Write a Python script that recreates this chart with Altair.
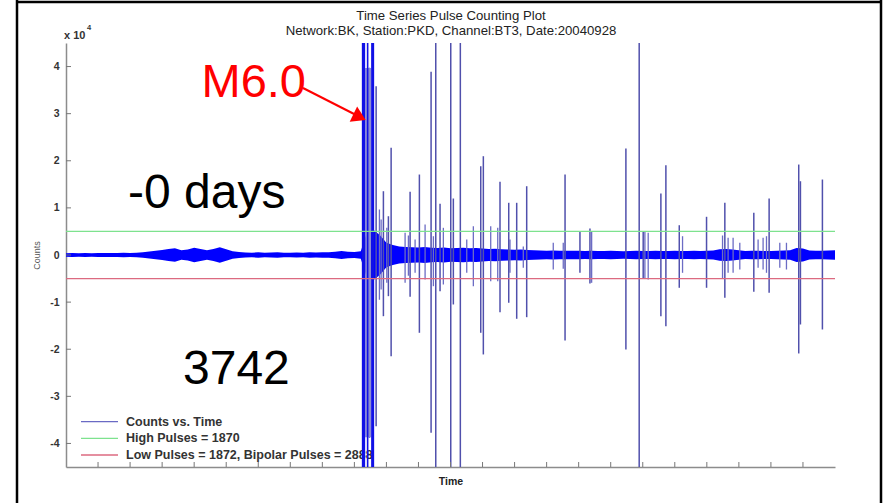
import altair as alt
import pandas as pd

# ---------------- data ----------------
x_domain = [0, 24]
y_domain = [-45000, 45000]
x_ticks = [1, 2, 3, 4, 5, 6, 7, 8, 9, 10, 11, 12, 13, 14, 15, 16, 17, 18, 19, 20, 21, 22, 23]
y_ticks = [-40000, -30000, -20000, -10000, 0, 10000, 20000, 30000, 40000]
high_threshold = [5000]
low_threshold = [-5000]

# background noise envelope (half amplitude, counts)
noise_hours = [0.0, 0.2, 0.4, 0.6, 0.8, 1.0, 1.2, 1.4, 1.6, 1.8, 2.0, 2.2, 2.4, 2.6, 2.8, 3.0,
               3.2, 3.4, 3.6, 3.8, 4.0, 4.2, 4.4, 4.6, 4.8, 5.0, 5.2, 5.4, 5.6, 5.8, 6.0, 6.2,
               6.4, 6.6, 6.8, 7.0, 7.2, 7.4, 7.6, 7.8, 8.0, 8.2, 8.4, 8.6, 8.8, 9.0, 9.2, 9.4,
               9.6, 9.8, 10.0, 10.2, 10.4, 10.6, 10.8, 11.0, 11.2, 11.4, 11.6, 11.8, 12.0, 12.2,
               12.4, 12.6, 12.8, 13.0, 13.2, 13.4, 13.6, 13.8, 14.0, 14.2, 14.4, 14.6, 14.8, 15.0,
               15.2, 15.4, 15.6, 15.8, 16.0, 16.2, 16.4, 16.6, 16.8, 17.0, 17.2, 17.4, 17.6, 17.8,
               18.0, 18.2, 18.4, 18.6, 18.8, 19.0, 19.2, 19.4, 19.6, 19.8, 20.0, 20.2, 20.4, 20.6,
               20.8, 21.0, 21.2, 21.4, 21.6, 21.8, 22.0, 22.2, 22.4, 22.6, 22.8, 23.0, 23.2, 23.4,
               23.6, 23.8, 24.0]
noise_amp = [380, 400, 360, 420, 380, 430, 400, 450, 420, 470, 440, 500,
             600, 750, 900, 1050, 1250, 1450, 1000, 1150, 1550, 1250, 1000, 1250, 1650, 1200, 800, 650, 550,
             500, 560, 480, 530, 580, 500, 480, 540, 500, 580, 520, 560,
             600, 700, 850, 700, 650, 800,
             5000, 5300, 4200, 2600, 2100,
             1800, 1700, 1650, 1600, 1700, 1550, 1500, 1600, 1450, 1500, 1550, 1450, 1500,
             1400, 1300, 1350, 1200, 1150, 1100, 1150, 1050,
             1000, 950, 900, 950, 900, 880, 920, 900,
             850, 880, 840, 860, 900, 850, 820, 860, 900, 870, 850, 880, 840, 860, 900, 850, 870, 880, 850, 900, 950,
             1200, 1300, 1150, 1000,
             850, 880, 900, 850, 870, 900, 950, 1000,
             1500, 1400,
             950, 900, 920, 950, 1000]

# main shock: saturated columns (start hour, end hour)
shock_start = [9.233, 9.389, 9.523]
shock_end = [9.336, 9.439, 9.617]
shock_fill = {"h": [9.336], "h2": [9.523], "hi": [39700], "lo": [-38700]}

# large pulses (hour, top, bottom)
pulse_hours = [9.470, 9.679, 9.906, 10.062, 10.147, 10.739, 11.029, 11.394, 11.540, 11.674,
               12.008, 12.089, 12.307, 12.944, 13.025, 13.545, 13.817, 14.066, 14.378, 15.575,
               16.040, 16.352, 17.474, 17.889, 18.014, 18.566, 18.722, 19.140, 19.991, 20.562,
               21.466, 21.944, 22.868, 22.921, 23.607]
pulse_top = [39720, 35820, 13540, 8230, 22750, 13410, 17080, 38880, 60000, 10860,
             60000, 11990, 60000, 18840, 20970, 15530, 11080, 11080, 14600, 17080,
             5050, 5620, 22600, 60000, 5050, 13050, 19060, 6320, 8110, 11080,
             8950, 11990, 19200, 15660, 16020]
pulse_bottom = [-38790, -36330, -12990, -8740, -21470, -8870, -16510, -37730, -60000, -7680,
                -60000, -10500, -60000, -16510, -21110, -12140, -10140, -13540, -13200, -18140,
                -3780, -6050, -20050, -60000, -5050, -12990, -15110, -6960, -6960, -9080,
                -7810, -8020, -20900, -14750, -15810]

# small pulses
small_hours = [9.782, 9.835, 10.012, 10.583, 10.686, 10.895, 11.207, 11.466, 11.777, 12.507,
               12.713, 13.255, 13.474, 13.857, 14.272, 15.207, 15.519, 16.405, 18.067, 18.170,
               19.242, 20.490, 20.664, 20.820, 21.029, 21.600, 21.756, 21.862, 22.277, 22.485]
small_top = [9660, 7530, 5770, 4710, 4140, 3290, 6500, 3990, 5770, 3290,
             6110, 6110, 5770, 3290, 1800, 2600, 2600, 5050, 5050, 4710,
             3990, 4140, 3650, 3650, 2600, 3290, 3650, 3990, 2600, 2600]
small_bottom = [-9500, -7300, -5900, -5900, -4400, -3780, -5200, -6620, -6260, -3780,
                -6620, -5560, -5560, -3780, -2700, -3080, -2900, -5900, -5050, -5200,
                -3780, -5050, -3780, -3780, -3080, -2720, -3080, -3780, -2720, -3080]

legend_labels = ["Counts vs. Time", "High Pulses = 1870", "Low Pulses = 1872, Bipolar Pulses = 2888"]
legend_colors = ["#6a6ac4", "#7ee28e", "#dc6a80"]
title_lines = ["Time Series Pulse Counting Plot", "Network:BK, Station:PKD, Channel:BT3, Date:20040928"]
annotations = ["M6.0", "-0 days", "3742"]

# ---------------- chart ----------------
FONT = "Liberation Sans"
W, H = 769, 424
xs = alt.Scale(domain=x_domain, nice=False, zero=False)
ys = alt.Scale(domain=y_domain, nice=False, zero=False)

xaxis = alt.Axis(labels=False, ticks=False, grid=False, domainColor="#8c8c8c", domainWidth=1.5,
                 title="Time", titleFont=FONT, titleFontSize=10.5, titleFontWeight="bold",
                 titleColor="#222222", titlePadding=9)
yaxis = alt.Axis(values=y_ticks, labelExpr="datum.value / 10000", ticks=False, grid=False,
                 domainColor="#8c8c8c", domainWidth=1.5, labelFont=FONT, labelFontSize=10.5,
                 labelFontWeight="bold", labelColor="#333333", labelPadding=7,
                 title="Counts", titleFont=FONT, titleFontSize=9, titleFontWeight="normal",
                 titleColor="#555555", titlePadding=8)


def X(f):
    return alt.X(f, type="quantitative", scale=xs, axis=xaxis)


def Y(f):
    return alt.Y(f, type="quantitative", scale=ys, axis=yaxis)


def text_layer(txt, x, y, size, color="#000000", weight="normal", align="left", baseline="alphabetic"):
    return alt.Chart(pd.DataFrame({"t": [txt]})).mark_text(
        font=FONT, fontSize=size, color=color, fontWeight=weight, align=align, baseline=baseline
    ).encode(text="t:N", x=alt.value(x), y=alt.value(y))


def line_layer(x1, y1, x2, y2, color, width):
    return alt.Chart(pd.DataFrame({"t": ["line"]})).mark_rule(color=color, strokeWidth=width).encode(
        x=alt.value(x1), y=alt.value(y1), x2=alt.value(x2), y2=alt.value(y2))


noise_df = pd.DataFrame({"h": noise_hours, "hi": noise_amp, "lo": [-a for a in noise_amp]})
pulse_df = pd.DataFrame({"h": pulse_hours, "hi": pulse_top, "lo": pulse_bottom})
small_df = pd.DataFrame({"h": small_hours, "hi": small_top, "lo": small_bottom})
shock_df = pd.DataFrame({"h": shock_start, "h2": shock_end})
fill_df = pd.DataFrame(shock_fill)

layers = []

# legend (drawn underneath the trace, as in the original)
legend_y = [378.7, 395.3, 412]
for lab, col, ly in zip(legend_labels, legend_colors, legend_y):
    layers.append(line_layer(15, ly, 52, ly, col, 1.3))
    layers.append(text_layer(lab, 60, ly, 12.5, "#333333", weight="bold", baseline="middle"))

noise_layer = alt.Chart(noise_df).mark_area(color="#0000ff", clip=True).encode(
    x=X("h"), y=Y("lo"), y2="hi:Q")
small_layer = alt.Chart(small_df).mark_rule(color="#6c6cc4", strokeWidth=1.3, clip=True).encode(
    x=X("h"), y=Y("lo"), y2="hi:Q")
pulse_layer = alt.Chart(pulse_df).mark_rule(color="#5050ac", strokeWidth=1.5, clip=True).encode(
    x=X("h"), y=Y("lo"), y2="hi:Q")
fill_layer = alt.Chart(fill_df).mark_rect(color="#8c8cd2", clip=True).encode(
    x=X("h"), x2="h2:Q", y=Y("lo"), y2="hi:Q")
shock_layer = alt.Chart(shock_df).mark_rect(color="#1010e6", clip=True).encode(
    x=X("h"), x2="h2:Q", y=alt.value(0), y2=alt.value(H))

high_layer = alt.Chart(pd.DataFrame({"v": high_threshold})).mark_rule(
    color=legend_colors[1], strokeWidth=1.3).encode(y=Y("v"))
low_layer = alt.Chart(pd.DataFrame({"v": low_threshold})).mark_rule(
    color=legend_colors[2], strokeWidth=1.3).encode(y=Y("v"))

xtick_layer = alt.Chart(pd.DataFrame({"h": x_ticks})).mark_rule(color="#777777", strokeWidth=1).encode(
    x=X("h"), y=alt.value(H), y2=alt.value(H - 5))
ytick_layer = alt.Chart(pd.DataFrame({"v": y_ticks})).mark_rule(color="#777777", strokeWidth=1).encode(
    y=Y("v"), x=alt.value(0), x2=alt.value(5))

layers += [noise_layer, small_layer, pulse_layer, fill_layer, shock_layer, high_layer, low_layer,
           xtick_layer, ytick_layer]

# titles
layers.append(text_layer(title_lines[0], W / 2 + 0.5, -27, 13.2, "#222222", align="center", baseline="middle"))
layers.append(text_layer(title_lines[1], W / 2 + 0.5, -12, 13.2, "#222222", align="center", baseline="middle"))
layers.append(text_layer("x 10", -2, -4, 11, "#333333", weight="bold"))
layers.append(text_layer("4", 21, -13, 7.5, "#333333", weight="bold"))

# big annotations
layers.append(text_layer(annotations[0], 135.5, 54, 47, "#ff0000"))
layers.append(text_layer(annotations[1], 62, 165, 48, "#000000"))
layers.append(text_layer(annotations[2], 117, 341, 48, "#000000"))

# arrow
layers.append(line_layer(237, 45, 292, 73, "#ff0000", 2))
layers.append(alt.Chart(pd.DataFrame({"t": ["arrow"]})).mark_point(
    shape="M0,-1L1,0.6L-1,0.6Z", filled=True, color="#ff0000", opacity=1, size=289, angle=116
).encode(x=alt.value(292), y=alt.value(73.3)))

# outer frame
layers.append(line_layer(-49, -41, 815, -41, "#000000", 2.5))
layers.append(line_layer(-49, -45, -49, 470, "#000000", 2.5))
layers.append(line_layer(815, -45, 815, 470, "#000000", 2.5))

chart = alt.layer(*layers).properties(
    width=W, height=H,
    autosize=alt.AutoSizeParams(type="none"),
    padding={"left": 66, "top": 43, "right": 54, "bottom": 36},
    background="white",
).configure_view(stroke="transparent")

chart.save("out.html", embed_options={"renderer": "svg", "actions": False})
